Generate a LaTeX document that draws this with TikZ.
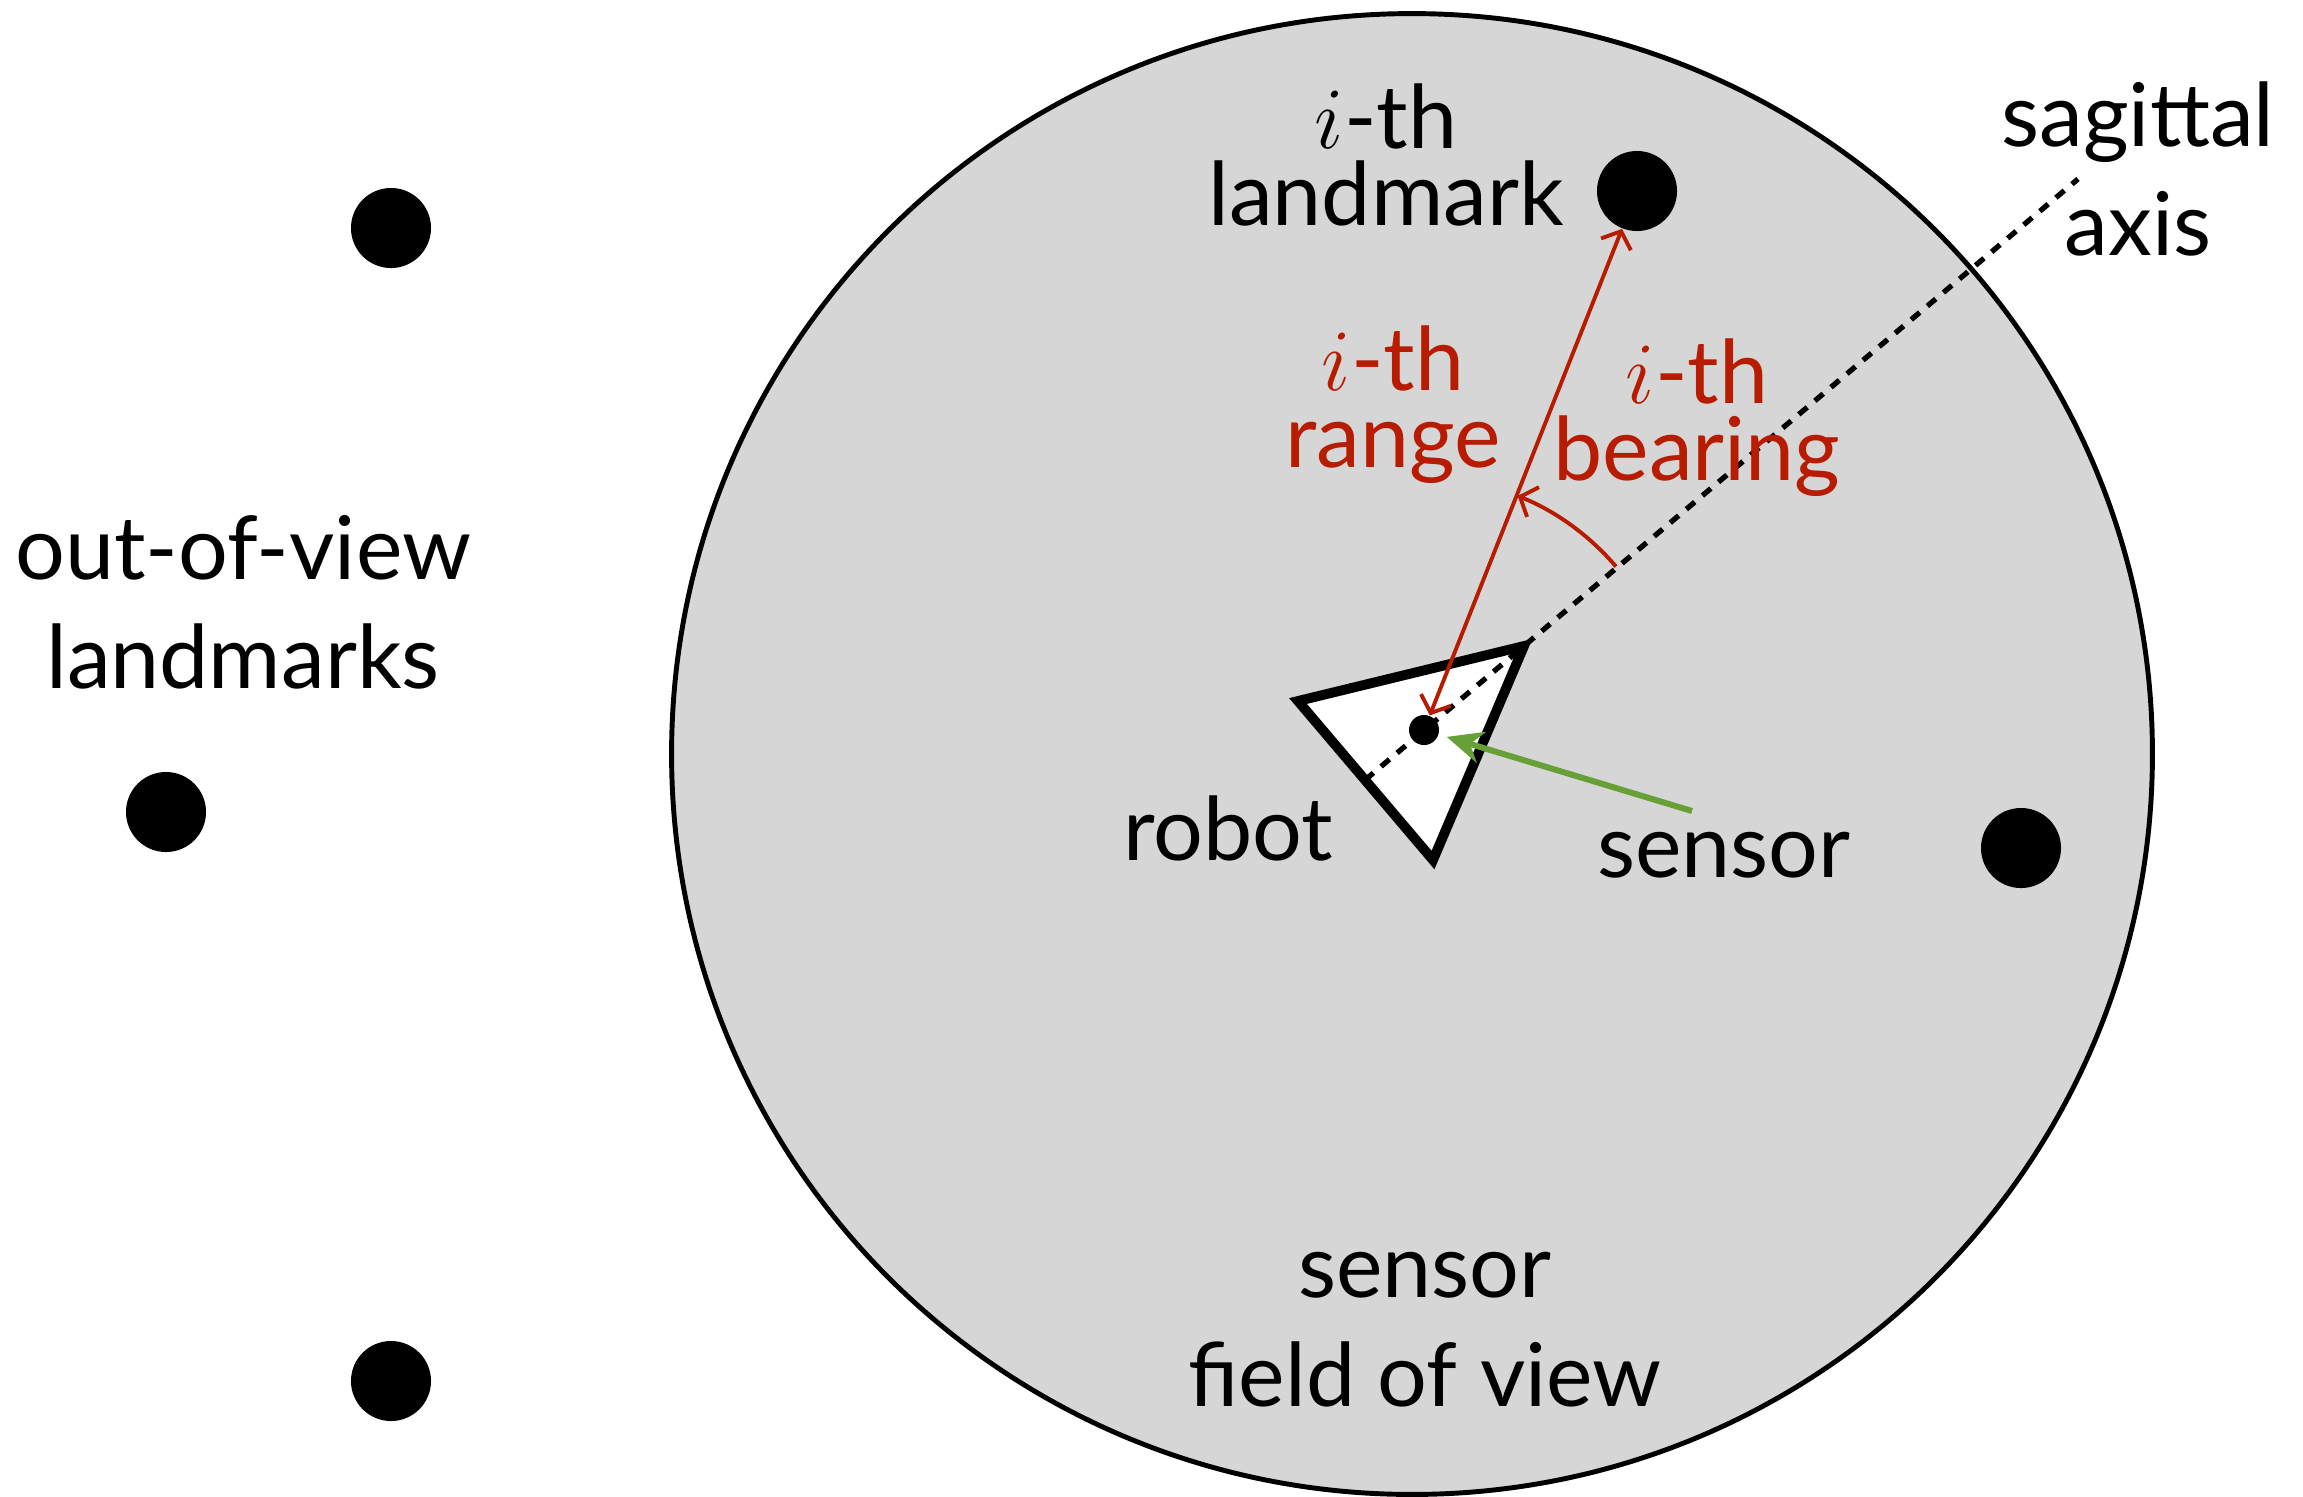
\documentclass[tikz,border=0pt]{standalone}
\usepackage{fontspec}
\setmainfont{Lato}
\usetikzlibrary{arrows.meta,calc}
\definecolor{fovgray}{RGB}{214,214,214}
\definecolor{rangered}{RGB}{183,27,0}
\definecolor{sensorgreen}{RGB}{102,160,54}

\begin{document}
\begin{tikzpicture}[x=0.01cm,y=-0.01cm,
  lbl/.style={anchor=base, inner sep=0pt, align=center, font=\fontsize{25}{21.8}\selectfont},
  widelbl/.style={lbl, font=\fontsize{25}{31}\selectfont},
  redlbl/.style={lbl, text=rangered},
  landmark/.style={circle, fill=black, minimum size=0.8cm, inner sep=0pt},
  redline/.style={draw=rangered, line width=1.1pt, >={Straight Barb[length=0.14cm,width=0.32cm]}}]
\useasboundingbox (0,0) rectangle (2303,1496);

% sensor field of view
\node[circle, draw=black, fill=fovgray, line width=1.4pt, minimum size=14.8cm, inner sep=0pt] (fov) at (1412,754) {};

% robot body
\coordinate (rbL) at (1298,701);
\coordinate (rbT) at (1524,646);
\coordinate (rbB) at (1433,860);
\draw[fill=white, line width=2.8pt, line join=miter] (rbL) -- (rbT) -- (rbB) -- cycle;

% sagittal axis
\coordinate (axisS) at (1365,780);
\coordinate (axisE) at (2078,179);
\draw[line width=1.5pt, dash pattern=on 0.11cm off 0.1cm] (axisS) -- (axisE);

% sensor and landmarks
\node[circle, fill=black, minimum size=0.3cm, inner sep=0pt] (sensor) at (1424,730) {};
\node[landmark] (lmi) at (1637,191) {};
\node[landmark] (lm1) at (391,228) {};
\node[landmark] (lm2) at (166,812) {};
\node[landmark] (lm3) at (391,1381) {};
\node[landmark] (lm4) at (2021,848) {};

% range and bearing
\draw[redline, <->] (sensor) -- (lmi);
\draw[redline, ->] ($(sensor)+(40.4:2.52cm)$) arc[start angle=40.4, end angle=68.2, radius=2.52cm];

% sensor pointer
\coordinate (sensortail) at (1692,811);
\draw[sensorgreen, line width=1.7pt, shorten >=0.08cm, -{Stealth[length=0.36cm,width=0.32cm]}] (sensortail) -- (sensor);

% labels (anchored at the baseline of their last line)
\node[lbl] (lmilbl) at (1386,225) {$i$-th\\landmark};
\node[widelbl] (saglbl) at (2138,255) {sagittal\\axis};
\node[widelbl] (oovlbl) at (243,688) {out-of-view\\landmarks};
\node[redlbl] (rnglbl) at (1393,467) {$i$-th\\range};
\node[redlbl] (brglbl) at (1697,480) {$i$-th\\bearing};
\node[lbl] (robotlbl) at (1228,860) {robot};
\node[lbl] (senslbl) at (1724,877) {sensor};
\node[widelbl] (fovlbl) at (1425,1406) {sensor\\field of view};
\end{tikzpicture}
\end{document}
